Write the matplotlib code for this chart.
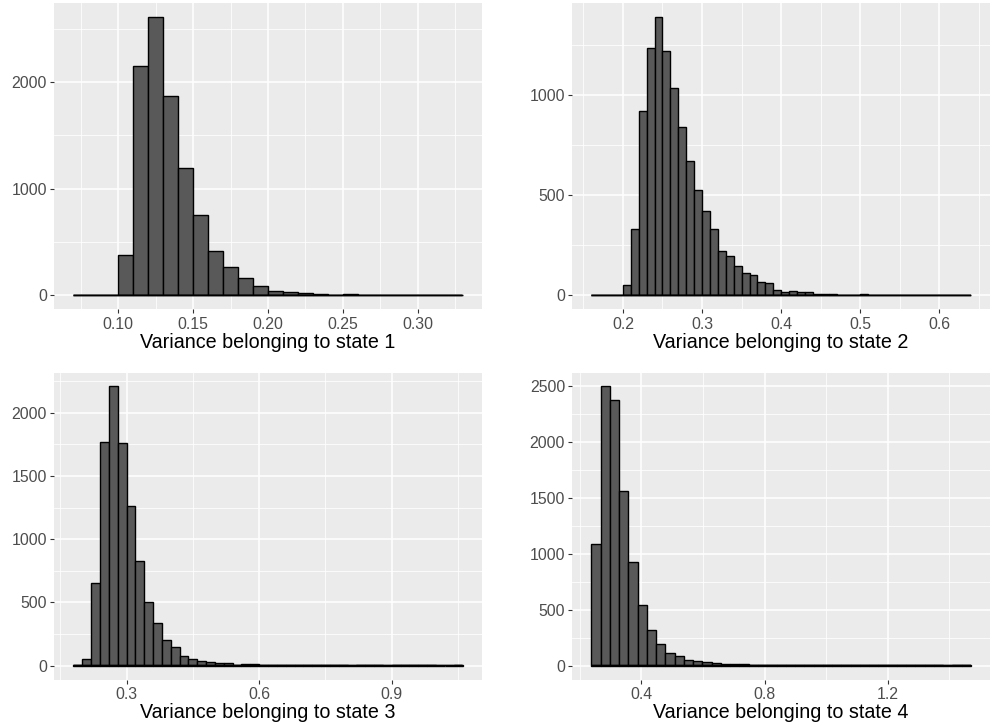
import numpy as np
import matplotlib
matplotlib.use("Agg")
import matplotlib.pyplot as plt

plt.rcParams['font.family'] = ['Liberation Sans', 'DejaVu Sans']

# ---- data: histogram bins (left edge of first bin, bin width, counts) ----
state1_start, state1_width = 0.07, 0.01
state1_counts = [0, 1, 5, 380, 2146, 2607, 1869, 1196, 751, 417, 262, 165, 90,
                 43, 31, 19, 12, 6, 10, 3, 5, 4, 7, 2, 4, 2]

state2_start, state2_width = 0.16, 0.01
state2_counts = [0, 2, 1, 4, 53, 331, 918, 1232, 1387, 1221, 1034, 838, 671, 525,
                 422, 330, 222, 195, 146, 110, 100, 68, 60, 28, 18, 23, 17, 15, 8,
                 8, 6, 4, 2, 3, 5, 2, 1, 1, 2, 1, 1, 3, 1, 0, 1, 2, 0, 1]

state3_start, state3_width = 0.18, 0.02
state3_counts = [1, 55, 654, 1770, 2208, 1763, 1261, 831, 501, 338, 200, 145, 79,
                 53, 37, 29, 24, 24, 8, 10, 10, 8, 5, 4, 3, 2, 2, 1, 1, 1, 1, 0,
                 1, 1, 2, 0, 1, 1, 1, 2, 1, 0, 0, 1]

state4_start, state4_width = 0.237, 0.0301
state4_counts = [1087, 2500, 2375, 1565, 929, 544, 320, 192, 112, 87, 51, 38, 30,
                 24, 18, 12, 10, 8, 6, 5, 4, 4, 3, 2, 2, 2, 3, 2, 1, 2, 2, 1, 2,
                 1, 1, 2, 1, 1, 0, 1, 1]

x_labels = ["Variance belonging to state 1", "Variance belonging to state 2",
            "Variance belonging to state 3", "Variance belonging to state 4"]

x_major = [[0.10, 0.15, 0.20, 0.25, 0.30],
           [0.2, 0.3, 0.4, 0.5, 0.6],
           [0.3, 0.6, 0.9],
           [0.4, 0.8, 1.2]]
x_ticklabels = [["0.10", "0.15", "0.20", "0.25", "0.30"],
                ["0.2", "0.3", "0.4", "0.5", "0.6"],
                ["0.3", "0.6", "0.9"],
                ["0.4", "0.8", "1.2"]]
y_major = [[0, 1000, 2000],
           [0, 500, 1000],
           [0, 500, 1000, 1500, 2000],
           [0, 500, 1000, 1500, 2000, 2500]]

panels = [(state1_start, state1_width, state1_counts),
          (state2_start, state2_width, state2_counts),
          (state3_start, state3_width, state3_counts),
          (state4_start, state4_width, state4_counts)]

W, H = 992, 727
fig = plt.figure(figsize=(W / 100, H / 100), dpi=100)

# panel boxes in pixels: left, right, top, bottom
boxes = [(54, 482, 3.3, 309.3),
         (572.3, 990, 3.3, 309.3),
         (54, 482, 372.5, 679.5),
         (572.3, 990, 372.5, 679.5)]

for i, ((start, bw, counts), (l, r, t, b)) in enumerate(zip(panels, boxes)):
    ax = fig.add_axes([l / W, 1 - b / H, (r - l) / W, (b - t) / H])
    counts = np.array(counts, dtype=float)
    n = len(counts)
    lefts = start + bw * np.arange(n)
    xmin, xmax = lefts[0], lefts[-1] + bw
    ax.bar(lefts, counts, width=bw, align='edge', color='#595959',
           edgecolor='black', linewidth=1.0, zorder=3)
    # zero-count bins are still outlined at the baseline (as ggplot does)
    ax.plot([xmin, xmax], [0, 0], color='black', linewidth=1.3,
            solid_capstyle='butt', snap=False, zorder=4)
    xr = xmax - xmin
    ax.set_xlim(xmin - 0.05 * xr, xmax + 0.05 * xr)
    ymax = counts.max()
    ax.set_ylim(-0.05 * ymax, 1.05 * ymax)

    xm = x_major[i]
    step = xm[1] - xm[0]
    xminor = np.arange(xm[0] - step / 2, xmax + 0.05 * xr + 1e-9, step)
    xminor = [v for v in xminor if xmin - 0.05 * xr <= v <= xmax + 0.05 * xr]
    ax.set_xticks(xm)
    ax.set_xticklabels(x_ticklabels[i])
    ax.set_xticks(xminor, minor=True)

    ym = y_major[i]
    ystep = ym[1] - ym[0]
    yminor = [v + ystep / 2 for v in ym + [ym[-1] + ystep] if v + ystep / 2 <= 1.05 * ymax]
    ax.set_yticks(ym)
    ax.set_yticklabels([str(v) for v in ym])
    ax.set_yticks(yminor, minor=True)

    ax.set_facecolor('#EBEBEB')
    ax.grid(which='major', color='white', linewidth=1.1, zorder=0)
    ax.grid(which='minor', color='white', linewidth=0.55, zorder=0)
    ax.set_axisbelow(True)
    for s in ax.spines.values():
        s.set_visible(False)
    ax.tick_params(which='major', length=3.0, width=0.8, color='#333333',
                   labelcolor='#4D4D4D', labelsize=11.4, pad=2.2)
    ax.tick_params(which='minor', length=0)
    ax.set_xlabel(x_labels[i], fontsize=14.2, color='black', labelpad=1.0)

fig.savefig("out.png", dpi=100)
